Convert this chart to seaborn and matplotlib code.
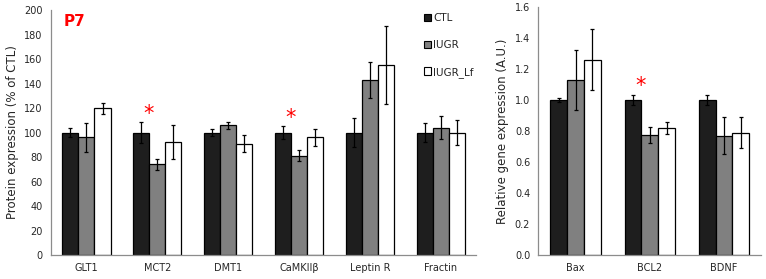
import numpy as np
import pandas as pd
import matplotlib
matplotlib.use("Agg")
import matplotlib.pyplot as plt
import seaborn as sns
from matplotlib.patches import Patch

# ---- data ----
groups = ["CTL", "IUGR", "IUGR_Lf"]
prot_genes = ["GLT1", "MCT2", "DMT1", "CaMKIIβ", "Leptin R", "Fractin"]
prot_ctl = [100, 100, 100, 100, 100, 100]
prot_iugr = [96, 74, 106, 81, 143, 104]
prot_lf = [120, 92, 91, 96, 155, 100]
prot_ctl_err = [3.5, 8.5, 2.5, 5, 11.5, 8]
prot_iugr_err = [11.5, 4.5, 3, 4.5, 14.5, 9.5]
prot_lf_err = [4.5, 14, 7, 7, 32, 10]
prot_stars = ["MCT2", "CaMKIIβ"]

gene_names = ["Bax", "BCL2", "BDNF"]
gene_ctl = [1.0, 1.0, 1.0]
gene_iugr = [1.13, 0.775, 0.77]
gene_lf = [1.26, 0.82, 0.79]
gene_ctl_err = [0.015, 0.03, 0.03]
gene_iugr_err = [0.195, 0.05, 0.12]
gene_lf_err = [0.195, 0.04, 0.10]
gene_stars = ["BCL2"]

colors = ["#1e1e1e", "#808080", "#ffffff"]
axis_col = "#8c8c8c"


def make_df(names, ctl, iugr, lf, e1, e2, e3):
    rows = []
    for g, vals, errs in zip(groups, [ctl, iugr, lf], [e1, e2, e3]):
        for n, v, e in zip(names, vals, errs):
            rows.append({"gene": n, "group": g, "value": v, "err": e})
    return pd.DataFrame(rows)


def draw_panel(ax, df, names, ylim, yticks, yfmt, ylabel, stars, star_off):
    sns.barplot(data=df, x="gene", y="value", hue="group", order=names,
                hue_order=groups, palette=colors, width=0.68, errorbar=None,
                edgecolor="black", linewidth=0.9, legend=False, ax=ax)
    # error bars at bar centres
    for cont, g in zip(ax.containers, groups):
        sub = df[df["group"] == g].set_index("gene").loc[names]
        xs = [b.get_x() + b.get_width() / 2 for b in cont]
        ax.errorbar(xs, sub["value"], yerr=sub["err"], fmt="none",
                    ecolor="black", elinewidth=0.9, capsize=1.5, capthick=0.9)
    # significance asterisks over CTL bars
    ctl_bars = ax.containers[0]
    for s in stars:
        i = names.index(s)
        b = ctl_bars[i]
        top = df[(df.gene == s) & (df.group == "CTL")][["value", "err"]].sum(axis=1).iloc[0]
        ax.text(b.get_x() + b.get_width() * 0.95, top + star_off, "*", color="red",
                ha="center", va="center", fontsize=15)
    ax.set_xlim(-0.5, len(names) - 0.5)
    ax.set_ylim(*ylim)
    ax.set_yticks(yticks)
    ax.set_yticklabels([yfmt.format(t) for t in yticks], fontsize=7)
    ax.set_xticks(range(len(names)))
    ax.set_xticklabels(names, fontsize=7)
    ax.set_xticks(np.arange(-0.5, len(names)), minor=True)
    ax.tick_params(axis="x", which="major", length=0, pad=6)
    ax.tick_params(axis="x", which="minor", length=3, color=axis_col, direction="out")
    ax.tick_params(axis="y", length=3, color=axis_col, direction="out", pad=3)
    ax.set_xlabel("")
    ax.set_ylabel(ylabel, fontsize=8.5)
    for sp in ["top", "right"]:
        ax.spines[sp].set_visible(False)
    for sp in ["left", "bottom"]:
        ax.spines[sp].set_color(axis_col)
        ax.spines[sp].set_linewidth(0.9)


sns.set_style("white")
plt.rcParams["font.family"] = ["DejaVu Sans"]

fig = plt.figure(figsize=(7.66, 2.79), dpi=100)
ax1 = fig.add_axes([0.0666, 0.086, 0.555, 0.878])
ax2 = fig.add_axes([0.703, 0.086, 0.2905, 0.889])

prot_df = make_df(prot_genes, prot_ctl, prot_iugr, prot_lf,
                  prot_ctl_err, prot_iugr_err, prot_lf_err)
gene_df = make_df(gene_names, gene_ctl, gene_iugr, gene_lf,
                  gene_ctl_err, gene_iugr_err, gene_lf_err)

draw_panel(ax1, prot_df, prot_genes, (0, 200), list(range(0, 201, 20)), "{:d}",
           "Protein expression (% of CTL)", prot_stars, 7)
draw_panel(ax2, gene_df, gene_names, (0, 1.6), list(np.round(np.arange(0, 1.61, 0.2), 1)),
           "{:.1f}", "Relative gene expression (A.U.)", gene_stars, 0.06)

ax1.text(0.03, 0.985, "P7", transform=ax1.transAxes, color="red",
         fontsize=11, fontweight="bold", va="top", ha="left")

handles = [Patch(facecolor=c, edgecolor="black", linewidth=0.8) for c in colors]
ax1.legend(handles, groups, loc="upper left", bbox_to_anchor=(0.855, 1.025),
           frameon=False, fontsize=7.5, handlelength=0.7, handleheight=0.7,
           handletextpad=0.2, labelspacing=1.6)

fig.savefig("out.png", dpi=100)
